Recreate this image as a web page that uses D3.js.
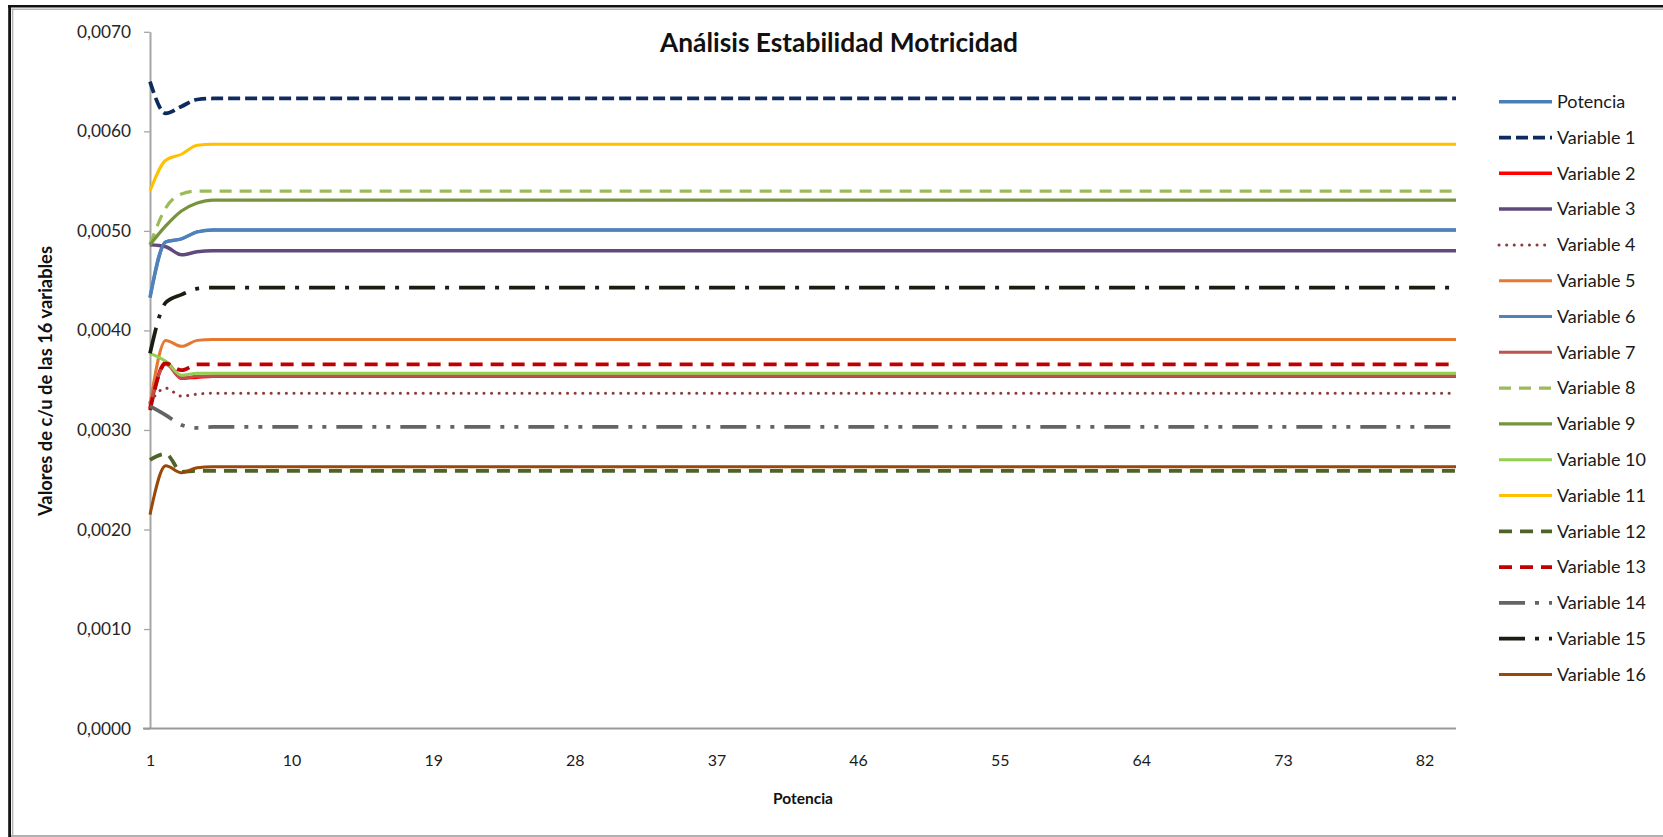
<!DOCTYPE html>
<html><head><meta charset="utf-8">
<script src="https://cdn.jsdelivr.net/npm/d3@7"></script>
<style>html,body{margin:0;padding:0;background:#fff;}svg{display:block;}</style>
</head><body>
<svg id="chart" width="1663" height="837"></svg>
<script>
// ---------- DATA ----------
const categories = [1,2,3,4,5,6,7,8,9,10,11,12,13,14,15,16,17,18,19,20,21,22,23,24,25,26,27,28,29,30,31,32,33,34,35,36,37,38,39,40,41,42,43,44,45,46,47,48,49,50,51,52,53,54,55,56,57,58,59,60,61,62,63,64,65,66,67,68,69,70,71,72,73,74,75,76,77,78,79,80,81,82,83,84];
const xTickLabels = [1,10,19,28,37,46,55,64,73,82];
const yTickValues = [0,0.001,0.002,0.003,0.004,0.005,0.006,0.007];
const seriesNames = ["Potencia","Variable 1","Variable 2","Variable 3","Variable 4","Variable 5","Variable 6","Variable 7","Variable 8","Variable 9","Variable 10","Variable 11","Variable 12","Variable 13","Variable 14","Variable 15","Variable 16"];

const potencia = [
0.00433,0.00489,0.00492,0.00499,0.00501,0.00501,0.00501,0.00501,0.00501,0.00501,
0.00501,0.00501,0.00501,0.00501,0.00501,0.00501,0.00501,0.00501,0.00501,0.00501,
0.00501,0.00501,0.00501,0.00501,0.00501,0.00501,0.00501,0.00501,0.00501,0.00501,
0.00501,0.00501,0.00501,0.00501,0.00501,0.00501,0.00501,0.00501,0.00501,0.00501,
0.00501,0.00501,0.00501,0.00501,0.00501,0.00501,0.00501,0.00501,0.00501,0.00501,
0.00501,0.00501,0.00501,0.00501,0.00501,0.00501,0.00501,0.00501,0.00501,0.00501,
0.00501,0.00501,0.00501,0.00501,0.00501,0.00501,0.00501,0.00501,0.00501,0.00501,
0.00501,0.00501,0.00501,0.00501,0.00501,0.00501,0.00501,0.00501,0.00501,0.00501,
0.00501,0.00501,0.00501,0.00501];
const variable1 = [
0.00650,0.00618,0.00625,0.00632,0.00633,0.00633,0.00633,0.00633,0.00633,0.00633,
0.00633,0.00633,0.00633,0.00633,0.00633,0.00633,0.00633,0.00633,0.00633,0.00633,
0.00633,0.00633,0.00633,0.00633,0.00633,0.00633,0.00633,0.00633,0.00633,0.00633,
0.00633,0.00633,0.00633,0.00633,0.00633,0.00633,0.00633,0.00633,0.00633,0.00633,
0.00633,0.00633,0.00633,0.00633,0.00633,0.00633,0.00633,0.00633,0.00633,0.00633,
0.00633,0.00633,0.00633,0.00633,0.00633,0.00633,0.00633,0.00633,0.00633,0.00633,
0.00633,0.00633,0.00633,0.00633,0.00633,0.00633,0.00633,0.00633,0.00633,0.00633,
0.00633,0.00633,0.00633,0.00633,0.00633,0.00633,0.00633,0.00633,0.00633,0.00633,
0.00633,0.00633,0.00633,0.00633];
const variable2 = [
0.00322,0.00368,0.00352,0.00353,0.00354,0.00354,0.00354,0.00354,0.00354,0.00354,
0.00354,0.00354,0.00354,0.00354,0.00354,0.00354,0.00354,0.00354,0.00354,0.00354,
0.00354,0.00354,0.00354,0.00354,0.00354,0.00354,0.00354,0.00354,0.00354,0.00354,
0.00354,0.00354,0.00354,0.00354,0.00354,0.00354,0.00354,0.00354,0.00354,0.00354,
0.00354,0.00354,0.00354,0.00354,0.00354,0.00354,0.00354,0.00354,0.00354,0.00354,
0.00354,0.00354,0.00354,0.00354,0.00354,0.00354,0.00354,0.00354,0.00354,0.00354,
0.00354,0.00354,0.00354,0.00354,0.00354,0.00354,0.00354,0.00354,0.00354,0.00354,
0.00354,0.00354,0.00354,0.00354,0.00354,0.00354,0.00354,0.00354,0.00354,0.00354,
0.00354,0.00354,0.00354,0.00354];
const variable3 = [
0.00486,0.00484,0.00476,0.00479,0.00480,0.00480,0.00480,0.00480,0.00480,0.00480,
0.00480,0.00480,0.00480,0.00480,0.00480,0.00480,0.00480,0.00480,0.00480,0.00480,
0.00480,0.00480,0.00480,0.00480,0.00480,0.00480,0.00480,0.00480,0.00480,0.00480,
0.00480,0.00480,0.00480,0.00480,0.00480,0.00480,0.00480,0.00480,0.00480,0.00480,
0.00480,0.00480,0.00480,0.00480,0.00480,0.00480,0.00480,0.00480,0.00480,0.00480,
0.00480,0.00480,0.00480,0.00480,0.00480,0.00480,0.00480,0.00480,0.00480,0.00480,
0.00480,0.00480,0.00480,0.00480,0.00480,0.00480,0.00480,0.00480,0.00480,0.00480,
0.00480,0.00480,0.00480,0.00480,0.00480,0.00480,0.00480,0.00480,0.00480,0.00480,
0.00480,0.00480,0.00480,0.00480];
const variable4 = [
0.00328,0.00342,0.00334,0.00336,0.00337,0.00337,0.00337,0.00337,0.00337,0.00337,
0.00337,0.00337,0.00337,0.00337,0.00337,0.00337,0.00337,0.00337,0.00337,0.00337,
0.00337,0.00337,0.00337,0.00337,0.00337,0.00337,0.00337,0.00337,0.00337,0.00337,
0.00337,0.00337,0.00337,0.00337,0.00337,0.00337,0.00337,0.00337,0.00337,0.00337,
0.00337,0.00337,0.00337,0.00337,0.00337,0.00337,0.00337,0.00337,0.00337,0.00337,
0.00337,0.00337,0.00337,0.00337,0.00337,0.00337,0.00337,0.00337,0.00337,0.00337,
0.00337,0.00337,0.00337,0.00337,0.00337,0.00337,0.00337,0.00337,0.00337,0.00337,
0.00337,0.00337,0.00337,0.00337,0.00337,0.00337,0.00337,0.00337,0.00337,0.00337,
0.00337,0.00337,0.00337,0.00337];
const variable5 = [
0.00325,0.00390,0.00384,0.00390,0.00391,0.00391,0.00391,0.00391,0.00391,0.00391,
0.00391,0.00391,0.00391,0.00391,0.00391,0.00391,0.00391,0.00391,0.00391,0.00391,
0.00391,0.00391,0.00391,0.00391,0.00391,0.00391,0.00391,0.00391,0.00391,0.00391,
0.00391,0.00391,0.00391,0.00391,0.00391,0.00391,0.00391,0.00391,0.00391,0.00391,
0.00391,0.00391,0.00391,0.00391,0.00391,0.00391,0.00391,0.00391,0.00391,0.00391,
0.00391,0.00391,0.00391,0.00391,0.00391,0.00391,0.00391,0.00391,0.00391,0.00391,
0.00391,0.00391,0.00391,0.00391,0.00391,0.00391,0.00391,0.00391,0.00391,0.00391,
0.00391,0.00391,0.00391,0.00391,0.00391,0.00391,0.00391,0.00391,0.00391,0.00391,
0.00391,0.00391,0.00391,0.00391];
const variable6 = [
0.00433,0.00489,0.00492,0.00499,0.00501,0.00501,0.00501,0.00501,0.00501,0.00501,
0.00501,0.00501,0.00501,0.00501,0.00501,0.00501,0.00501,0.00501,0.00501,0.00501,
0.00501,0.00501,0.00501,0.00501,0.00501,0.00501,0.00501,0.00501,0.00501,0.00501,
0.00501,0.00501,0.00501,0.00501,0.00501,0.00501,0.00501,0.00501,0.00501,0.00501,
0.00501,0.00501,0.00501,0.00501,0.00501,0.00501,0.00501,0.00501,0.00501,0.00501,
0.00501,0.00501,0.00501,0.00501,0.00501,0.00501,0.00501,0.00501,0.00501,0.00501,
0.00501,0.00501,0.00501,0.00501,0.00501,0.00501,0.00501,0.00501,0.00501,0.00501,
0.00501,0.00501,0.00501,0.00501,0.00501,0.00501,0.00501,0.00501,0.00501,0.00501,
0.00501,0.00501,0.00501,0.00501];
const variable7 = [
0.00325,0.00366,0.00352,0.00354,0.00354,0.00354,0.00354,0.00354,0.00354,0.00354,
0.00354,0.00354,0.00354,0.00354,0.00354,0.00354,0.00354,0.00354,0.00354,0.00354,
0.00354,0.00354,0.00354,0.00354,0.00354,0.00354,0.00354,0.00354,0.00354,0.00354,
0.00354,0.00354,0.00354,0.00354,0.00354,0.00354,0.00354,0.00354,0.00354,0.00354,
0.00354,0.00354,0.00354,0.00354,0.00354,0.00354,0.00354,0.00354,0.00354,0.00354,
0.00354,0.00354,0.00354,0.00354,0.00354,0.00354,0.00354,0.00354,0.00354,0.00354,
0.00354,0.00354,0.00354,0.00354,0.00354,0.00354,0.00354,0.00354,0.00354,0.00354,
0.00354,0.00354,0.00354,0.00354,0.00354,0.00354,0.00354,0.00354,0.00354,0.00354,
0.00354,0.00354,0.00354,0.00354];
const variable8 = [
0.00486,0.00523,0.00537,0.00540,0.00540,0.00540,0.00540,0.00540,0.00540,0.00540,
0.00540,0.00540,0.00540,0.00540,0.00540,0.00540,0.00540,0.00540,0.00540,0.00540,
0.00540,0.00540,0.00540,0.00540,0.00540,0.00540,0.00540,0.00540,0.00540,0.00540,
0.00540,0.00540,0.00540,0.00540,0.00540,0.00540,0.00540,0.00540,0.00540,0.00540,
0.00540,0.00540,0.00540,0.00540,0.00540,0.00540,0.00540,0.00540,0.00540,0.00540,
0.00540,0.00540,0.00540,0.00540,0.00540,0.00540,0.00540,0.00540,0.00540,0.00540,
0.00540,0.00540,0.00540,0.00540,0.00540,0.00540,0.00540,0.00540,0.00540,0.00540,
0.00540,0.00540,0.00540,0.00540,0.00540,0.00540,0.00540,0.00540,0.00540,0.00540,
0.00540,0.00540,0.00540,0.00540];
const variable9 = [
0.00486,0.00505,0.00520,0.00528,0.00531,0.00531,0.00531,0.00531,0.00531,0.00531,
0.00531,0.00531,0.00531,0.00531,0.00531,0.00531,0.00531,0.00531,0.00531,0.00531,
0.00531,0.00531,0.00531,0.00531,0.00531,0.00531,0.00531,0.00531,0.00531,0.00531,
0.00531,0.00531,0.00531,0.00531,0.00531,0.00531,0.00531,0.00531,0.00531,0.00531,
0.00531,0.00531,0.00531,0.00531,0.00531,0.00531,0.00531,0.00531,0.00531,0.00531,
0.00531,0.00531,0.00531,0.00531,0.00531,0.00531,0.00531,0.00531,0.00531,0.00531,
0.00531,0.00531,0.00531,0.00531,0.00531,0.00531,0.00531,0.00531,0.00531,0.00531,
0.00531,0.00531,0.00531,0.00531,0.00531,0.00531,0.00531,0.00531,0.00531,0.00531,
0.00531,0.00531,0.00531,0.00531];
const variable10 = [
0.00377,0.00369,0.00355,0.00357,0.00357,0.00357,0.00357,0.00357,0.00357,0.00357,
0.00357,0.00357,0.00357,0.00357,0.00357,0.00357,0.00357,0.00357,0.00357,0.00357,
0.00357,0.00357,0.00357,0.00357,0.00357,0.00357,0.00357,0.00357,0.00357,0.00357,
0.00357,0.00357,0.00357,0.00357,0.00357,0.00357,0.00357,0.00357,0.00357,0.00357,
0.00357,0.00357,0.00357,0.00357,0.00357,0.00357,0.00357,0.00357,0.00357,0.00357,
0.00357,0.00357,0.00357,0.00357,0.00357,0.00357,0.00357,0.00357,0.00357,0.00357,
0.00357,0.00357,0.00357,0.00357,0.00357,0.00357,0.00357,0.00357,0.00357,0.00357,
0.00357,0.00357,0.00357,0.00357,0.00357,0.00357,0.00357,0.00357,0.00357,0.00357,
0.00357,0.00357,0.00357,0.00357];
const variable11 = [
0.00540,0.00571,0.00577,0.00586,0.00587,0.00587,0.00587,0.00587,0.00587,0.00587,
0.00587,0.00587,0.00587,0.00587,0.00587,0.00587,0.00587,0.00587,0.00587,0.00587,
0.00587,0.00587,0.00587,0.00587,0.00587,0.00587,0.00587,0.00587,0.00587,0.00587,
0.00587,0.00587,0.00587,0.00587,0.00587,0.00587,0.00587,0.00587,0.00587,0.00587,
0.00587,0.00587,0.00587,0.00587,0.00587,0.00587,0.00587,0.00587,0.00587,0.00587,
0.00587,0.00587,0.00587,0.00587,0.00587,0.00587,0.00587,0.00587,0.00587,0.00587,
0.00587,0.00587,0.00587,0.00587,0.00587,0.00587,0.00587,0.00587,0.00587,0.00587,
0.00587,0.00587,0.00587,0.00587,0.00587,0.00587,0.00587,0.00587,0.00587,0.00587,
0.00587,0.00587,0.00587,0.00587];
const variable12 = [
0.00270,0.00276,0.00258,0.00259,0.00259,0.00259,0.00259,0.00259,0.00259,0.00259,
0.00259,0.00259,0.00259,0.00259,0.00259,0.00259,0.00259,0.00259,0.00259,0.00259,
0.00259,0.00259,0.00259,0.00259,0.00259,0.00259,0.00259,0.00259,0.00259,0.00259,
0.00259,0.00259,0.00259,0.00259,0.00259,0.00259,0.00259,0.00259,0.00259,0.00259,
0.00259,0.00259,0.00259,0.00259,0.00259,0.00259,0.00259,0.00259,0.00259,0.00259,
0.00259,0.00259,0.00259,0.00259,0.00259,0.00259,0.00259,0.00259,0.00259,0.00259,
0.00259,0.00259,0.00259,0.00259,0.00259,0.00259,0.00259,0.00259,0.00259,0.00259,
0.00259,0.00259,0.00259,0.00259,0.00259,0.00259,0.00259,0.00259,0.00259,0.00259,
0.00259,0.00259,0.00259,0.00259];
const variable13 = [
0.00320,0.00367,0.00360,0.00366,0.00366,0.00366,0.00366,0.00366,0.00366,0.00366,
0.00366,0.00366,0.00366,0.00366,0.00366,0.00366,0.00366,0.00366,0.00366,0.00366,
0.00366,0.00366,0.00366,0.00366,0.00366,0.00366,0.00366,0.00366,0.00366,0.00366,
0.00366,0.00366,0.00366,0.00366,0.00366,0.00366,0.00366,0.00366,0.00366,0.00366,
0.00366,0.00366,0.00366,0.00366,0.00366,0.00366,0.00366,0.00366,0.00366,0.00366,
0.00366,0.00366,0.00366,0.00366,0.00366,0.00366,0.00366,0.00366,0.00366,0.00366,
0.00366,0.00366,0.00366,0.00366,0.00366,0.00366,0.00366,0.00366,0.00366,0.00366,
0.00366,0.00366,0.00366,0.00366,0.00366,0.00366,0.00366,0.00366,0.00366,0.00366,
0.00366,0.00366,0.00366,0.00366];
const variable14 = [
0.00324,0.00315,0.00305,0.00302,0.00303,0.00303,0.00303,0.00303,0.00303,0.00303,
0.00303,0.00303,0.00303,0.00303,0.00303,0.00303,0.00303,0.00303,0.00303,0.00303,
0.00303,0.00303,0.00303,0.00303,0.00303,0.00303,0.00303,0.00303,0.00303,0.00303,
0.00303,0.00303,0.00303,0.00303,0.00303,0.00303,0.00303,0.00303,0.00303,0.00303,
0.00303,0.00303,0.00303,0.00303,0.00303,0.00303,0.00303,0.00303,0.00303,0.00303,
0.00303,0.00303,0.00303,0.00303,0.00303,0.00303,0.00303,0.00303,0.00303,0.00303,
0.00303,0.00303,0.00303,0.00303,0.00303,0.00303,0.00303,0.00303,0.00303,0.00303,
0.00303,0.00303,0.00303,0.00303,0.00303,0.00303,0.00303,0.00303,0.00303,0.00303,
0.00303,0.00303,0.00303,0.00303];
const variable15 = [
0.00377,0.00428,0.00436,0.00442,0.00443,0.00443,0.00443,0.00443,0.00443,0.00443,
0.00443,0.00443,0.00443,0.00443,0.00443,0.00443,0.00443,0.00443,0.00443,0.00443,
0.00443,0.00443,0.00443,0.00443,0.00443,0.00443,0.00443,0.00443,0.00443,0.00443,
0.00443,0.00443,0.00443,0.00443,0.00443,0.00443,0.00443,0.00443,0.00443,0.00443,
0.00443,0.00443,0.00443,0.00443,0.00443,0.00443,0.00443,0.00443,0.00443,0.00443,
0.00443,0.00443,0.00443,0.00443,0.00443,0.00443,0.00443,0.00443,0.00443,0.00443,
0.00443,0.00443,0.00443,0.00443,0.00443,0.00443,0.00443,0.00443,0.00443,0.00443,
0.00443,0.00443,0.00443,0.00443,0.00443,0.00443,0.00443,0.00443,0.00443,0.00443,
0.00443,0.00443,0.00443,0.00443];
const variable16 = [
0.00215,0.00264,0.00257,0.00262,0.00263,0.00263,0.00263,0.00263,0.00263,0.00263,
0.00263,0.00263,0.00263,0.00263,0.00263,0.00263,0.00263,0.00263,0.00263,0.00263,
0.00263,0.00263,0.00263,0.00263,0.00263,0.00263,0.00263,0.00263,0.00263,0.00263,
0.00263,0.00263,0.00263,0.00263,0.00263,0.00263,0.00263,0.00263,0.00263,0.00263,
0.00263,0.00263,0.00263,0.00263,0.00263,0.00263,0.00263,0.00263,0.00263,0.00263,
0.00263,0.00263,0.00263,0.00263,0.00263,0.00263,0.00263,0.00263,0.00263,0.00263,
0.00263,0.00263,0.00263,0.00263,0.00263,0.00263,0.00263,0.00263,0.00263,0.00263,
0.00263,0.00263,0.00263,0.00263,0.00263,0.00263,0.00263,0.00263,0.00263,0.00263,
0.00263,0.00263,0.00263,0.00263];

const seriesValues = [potencia,variable1,variable2,variable3,variable4,variable5,variable6,variable7,variable8,variable9,variable10,variable11,variable12,variable13,variable14,variable15,variable16];

// ---------- STYLES ----------
const seriesStyles = [
  {color:"#4A7EBB", width:3.5, dash:null},
  {color:"#0F2A5E", width:3.75, dash:"12,5"},
  {color:"#FF0000", width:3.5, dash:null},
  {color:"#604A7B", width:3.5, dash:null},
  {color:"#8E3B3B", width:3, dash:"0.1,7.5", cap:"round"},
  {color:"#E5792F", width:3, dash:null},
  {color:"#4F81BD", width:3, dash:null},
  {color:"#C0504D", width:3, dash:null},
  {color:"#9BBB59", width:3.25, dash:"12,8"},
  {color:"#77933C", width:3.25, dash:null},
  {color:"#92D050", width:3, dash:null},
  {color:"#FFC000", width:3, dash:null},
  {color:"#4F6228", width:3.75, dash:"13,8"},
  {color:"#C00000", width:3.75, dash:"13,8"},
  {color:"#646464", width:3.75, dash:"26,10,4,10,4,10"},
  {color:"#1C1C12", width:3.75, dash:"26,10,4,10"},
  {color:"#984807", width:3, dash:null}
];

const FONT = "Lato, 'Open Sans', 'Liberation Sans', sans-serif";
const svg = d3.select("#chart");
const X0 = 150, X1 = 1456, Y0 = 728.6, Y1 = 31.8;

function fitSize(str, weight, target){
  const t = svg.append("text").attr("font-family",FONT).attr("font-weight",weight)
    .attr("font-size",100).text(str);
  const w = t.node().getComputedTextLength();
  t.remove();
  return 100*target/w;
}

// frame
svg.append("rect").attr("x",0).attr("y",0).attr("width",1663).attr("height",837).attr("fill","#fff");
svg.append("line").attr("x1",8).attr("x2",1663).attr("y1",6.2).attr("y2",6.2).attr("stroke","#111").attr("stroke-width",2.6);
svg.append("line").attr("x1",11.5).attr("x2",1663).attr("y1",9.2).attr("y2",9.2).attr("stroke","#b4b4b4").attr("stroke-width",1.5);
svg.append("line").attr("x1",9.6).attr("x2",9.6).attr("y1",5).attr("y2",837).attr("stroke","#111").attr("stroke-width",2.8);
svg.append("line").attr("x1",12.6).attr("x2",12.6).attr("y1",8.5).attr("y2",837).attr("stroke","#b4b4b4").attr("stroke-width",1.5);
svg.append("line").attr("x1",11).attr("x2",1663).attr("y1",836).attr("y2",836).attr("stroke","#b0b0b0").attr("stroke-width",2);

// scales
const x = d3.scalePoint().domain(categories).range([X0, X1]);
const y = d3.scaleLinear().domain([0, 0.007]).range([Y0, Y1]);

// y axis
const ySize = fitSize("0,0070", 400, 54);
const yAxis = d3.axisLeft(y).tickValues(yTickValues)
  .tickFormat(d => d3.format(".4f")(d).replace(".", ","))
  .tickSize(6).tickSizeOuter(0).tickPadding(13);
const gy = svg.append("g").attr("transform", `translate(${X0},0)`).call(yAxis);
gy.select(".domain").attr("stroke","#a6a6a6").attr("stroke-width",2);
gy.selectAll(".tick line").attr("stroke","#a6a6a6").attr("stroke-width",1.3);
gy.selectAll(".tick text").attr("font-family",FONT).attr("font-size",ySize).attr("fill","#262626");

// x axis
const xSize = fitSize("82", 400, 18.5);
const xAxis = d3.axisBottom(x).tickValues(xTickLabels).tickSize(0).tickSizeOuter(0);
const gx = svg.append("g").attr("transform", `translate(0,${Y0})`).call(xAxis);
gx.select(".domain").attr("stroke","#999").attr("stroke-width",2).attr("d", `M${X0-7},0H${X1}`);
gx.selectAll(".tick text").attr("font-family",FONT).attr("font-size",xSize).attr("fill","#1a1a1a")
  .attr("y", 31.5).attr("dy","0.35em");

// lines
const line = d3.line()
  .x((d,i) => x(categories[i]))
  .y(d => y(d))
  .curve(d3.curveMonotoneX);
const gLines = svg.append("g");
seriesValues.forEach((vals, k) => {
  const s = seriesStyles[k];
  gLines.append("path").datum(vals)
    .attr("d", line)
    .attr("fill","none")
    .attr("stroke", s.color)
    .attr("stroke-width", s.width)
    .attr("stroke-linejoin","round")
    .attr("stroke-linecap", s.cap || "butt")
    .attr("stroke-dasharray", s.dash);
});

// title
svg.append("text").attr("x", 839).attr("y", 52)
  .attr("text-anchor","middle").attr("font-family",FONT).attr("font-weight",700)
  .attr("font-size", fitSize("Análisis Estabilidad Motricidad",700,358)).attr("fill","#111")
  .text("Análisis Estabilidad Motricidad");

// axis titles
svg.append("text").attr("x", 803).attr("y", 799).attr("dy","0.35em")
  .attr("text-anchor","middle").attr("font-family",FONT).attr("font-weight",700)
  .attr("font-size", fitSize("Potencia",700,60)).attr("fill","#111").text("Potencia");
svg.append("text").attr("transform","translate(46,381) rotate(-90)").attr("dy","0.35em")
  .attr("text-anchor","middle").attr("font-family",FONT).attr("font-weight",700)
  .attr("font-size", fitSize("Valores de c/u de las 16 variables",700,270)).attr("fill","#111")
  .text("Valores de c/u de las 16 variables");

// legend
const legSize = fitSize("Variable 16", 400, 89);
const gLeg = svg.append("g");
seriesNames.forEach((name, k) => {
  const s = seriesStyles[k];
  const yy = 101.7 + k*35.8;
  gLeg.append("line").attr("x1",1499).attr("x2",1552).attr("y1",yy).attr("y2",yy)
    .attr("stroke", s.color).attr("stroke-width", s.width)
    .attr("stroke-linecap", s.cap || "butt")
    .attr("stroke-dasharray", s.dash);
  gLeg.append("text").attr("x",1557).attr("y",yy).attr("dy","0.35em")
    .attr("font-family",FONT).attr("font-size",legSize).attr("fill","#1a1a1a").text(name);
});
</script>
</body></html>
